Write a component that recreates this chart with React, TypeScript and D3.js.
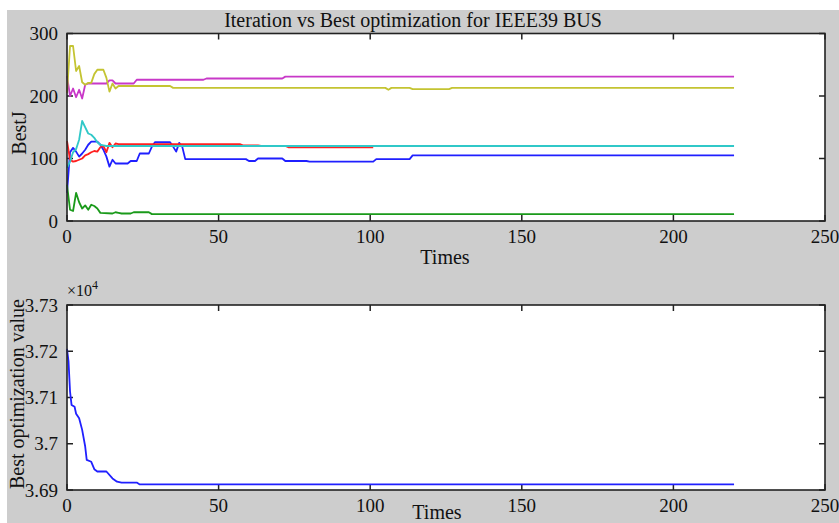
import React from "react";
import * as d3 from "d3";

// ---- data ----
const xTicks = [0, 50, 100, 150, 200, 250];
const topYTicks = [0, 100, 200, 300];
const botYTicks = [3.69, 3.7, 3.71, 3.72, 3.73];
const botYTickLabels = ["3.69", "3.7", "3.71", "3.72", "3.73"];

const blueJ: [number, number][] = [[0,45],[1,110],[2,117],[3,111],[4,103],[5,108],[6,114],[7,122],[8,127],[10,127],[11,122],[12,114],[13,103],[14,87],[15,98],[16,92],[20,92],[21,96],[23,96],[24,108],[27,108],[28,119],[29,126],[34,126],[35,119],[36,111],[37,125],[38,119],[39,99],[59,99],[60,96],[62,96],[63,100],[71,100],[72,96],[79,96],[80,95],[101,95],[102,99],[113,99],[114,105],[220,105]];
const greenJ: [number, number][] = [[0,58],[1,18],[2,16],[3,45],[4,30],[5,20],[6,25],[7,18],[8,26],[9,24],[10,20],[11,13],[15,12],[16,14],[17,13],[18,12],[21,12],[22,14],[27,14],[28,11],[220,11]];
const redJ: [number, number][] = [[0,128],[1,98],[2,95],[3,96],[4,98],[5,100],[6,105],[7,107],[8,110],[9,112],[10,111],[11,118],[12,120],[13,110],[14,125],[15,118],[16,124],[17,123],[57,123],[58,121],[63,121],[64,120],[72,120],[73,118],[101,118]];
const cyanJ: [number, number][] = [[0,85],[1,95],[2,110],[3,115],[4,130],[5,160],[6,150],[7,140],[8,138],[9,133],[10,126],[11,122],[12,121],[13,120],[220,120]];
const magentaJ: [number, number][] = [[0,232],[1,200],[2,212],[3,198],[4,210],[5,196],[6,218],[7,220],[13,220],[14,225],[15,225],[16,220],[22,220],[23,226],[45,226],[46,228],[71,228],[72,231],[220,231]];
const yellowJ: [number, number][] = [[0,205],[1,280],[2,280],[3,240],[4,248],[5,222],[6,218],[7,221],[8,221],[9,235],[10,242],[12,242],[13,229],[14,207],[15,220],[16,212],[17,216],[34,216],[35,213],[105,213],[106,210],[107,213],[113,213],[114,211],[126,211],[127,213],[220,213]];

const bestValue: [number, number][] = [[0,3.7205],[0.5,3.7178],[1,3.7113],[1.5,3.7084],[2.5,3.708],[3,3.7065],[4,3.7055],[5,3.703],[6,3.6994],[6.5,3.6965],[8,3.6961],[9,3.6945],[10,3.694],[13,3.694],[15,3.6925],[16.5,3.6918],[18,3.6916],[23,3.6916],[24,3.6912],[220,3.6912]];

const seriesTop = [
  { data: blueJ, color: "#1f1fff" },
  { data: greenJ, color: "#1a9a1a" },
  { data: redJ, color: "#ff2020" },
  { data: cyanJ, color: "#30c8c8" },
  { data: magentaJ, color: "#c838c8" },
  { data: yellowJ, color: "#c4c432" },
];

const W = 839, H = 523;
const FONT = "'Liberation Serif', 'Times New Roman', serif";
const AX = "#222";
const TICK_FS = 19;
const LABEL_FS = 20;

export default function App() {
  const x = d3.scaleLinear().domain([0, 250]).range([67, 825]);
  const yT = d3.scaleLinear().domain([0, 300]).range([221, 33.5]);
  const yB = d3.scaleLinear().domain([3.69, 3.73]).range([490, 305]);

  const lineT = d3.line<[number, number]>().x(d => x(d[0])).y(d => yT(d[1]));
  const lineB = d3.line<[number, number]>().x(d => x(d[0])).y(d => yB(d[1]));

  const tl = 6;

  const frame = (y: d3.ScaleLinear<number, number>, yTicks: number[], yLabels: string[], key: string) => {
    const [y0, y1] = y.range();
    const [x0, x1] = x.range();
    return (
      <g key={key}>
        <rect x={x0} y={y1} width={x1 - x0} height={y0 - y1} fill="#fff" />
        {xTicks.map(t => (
          <g key={"xt" + t}>
            <line x1={x(t)} x2={x(t)} y1={y0} y2={y0 - tl} stroke={AX} strokeWidth={1.5} />
            <line x1={x(t)} x2={x(t)} y1={y1} y2={y1 + tl} stroke={AX} strokeWidth={1.5} />
            <text x={x(t)} y={y0 + 22} textAnchor="middle" fontSize={TICK_FS} fontFamily={FONT} fill="#111">{t}</text>
          </g>
        ))}
        {yTicks.map((t, i) => (
          <g key={"yt" + t}>
            <line x1={x0} x2={x0 + tl} y1={y(t)} y2={y(t)} stroke={AX} strokeWidth={1.5} />
            <line x1={x1} x2={x1 - tl} y1={y(t)} y2={y(t)} stroke={AX} strokeWidth={1.5} />
            <text x={58} y={y(t) + 6.5} textAnchor="end" fontSize={TICK_FS} fontFamily={FONT} fill="#111">{yLabels[i]}</text>
          </g>
        ))}
      </g>
    );
  };

  const border = (y: d3.ScaleLinear<number, number>) => {
    const [y0, y1] = y.range();
    const [x0, x1] = x.range();
    return <rect x={x0} y={y1} width={x1 - x0} height={y0 - y1} fill="none" stroke={AX} strokeWidth={1.6} />;
  };

  return (
    <svg width={W} height={H} style={{ position: "absolute", left: 0, top: 0 }}>
      <rect x={0} y={0} width={W} height={H} fill="#fff" />
      <rect x={7} y={10} width={W - 7} height={H - 10} fill="#cdcdcd" />
      <text x={413} y={27} textAnchor="middle" fontSize={LABEL_FS} fontFamily={FONT} fill="#111">Iteration vs Best optimization for IEEE39 BUS</text>

      {frame(yT, topYTicks, topYTicks.map(String), "top")}
      <g>
        {seriesTop.map((s, i) => (
          <path key={i} d={lineT(s.data) || ""} fill="none" stroke={s.color} strokeWidth={1.8} strokeLinejoin="round" />
        ))}
      </g>
      {border(yT)}
      <text x={445} y={264} textAnchor="middle" fontSize={LABEL_FS} fontFamily={FONT} fill="#111">Times</text>
      <text transform="translate(26,133) rotate(-90)" textAnchor="middle" fontSize={LABEL_FS} fontFamily={FONT} fill="#111">BestJ</text>

      {frame(yB, botYTicks, botYTickLabels, "bot")}
      <path d={lineB(bestValue) || ""} fill="none" stroke="#2020ff" strokeWidth={1.8} strokeLinejoin="round" />
      {border(yB)}
      <text x={67} y={296} fontSize={16} fontFamily={FONT} fill="#111">×10<tspan dy={-7} fontSize={12}>4</tspan></text>
      <text x={437} y={519} textAnchor="middle" fontSize={LABEL_FS} fontFamily={FONT} fill="#111">Times</text>
      <text transform="translate(24,394) rotate(-90)" textAnchor="middle" fontSize={LABEL_FS} fontFamily={FONT} fill="#111">Best optimization value</text>
    </svg>
  );
}
